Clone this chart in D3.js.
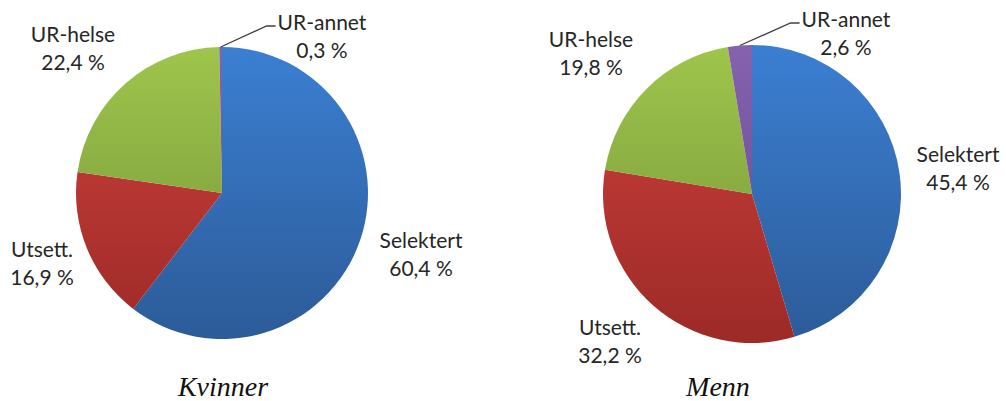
<!DOCTYPE html>
<html>
<head>
<meta charset="utf-8">
<script src="https://cdn.jsdelivr.net/npm/d3@7"></script>
<style>
  html, body { margin: 0; padding: 0; background: #fff; }
  svg { display: block; }
</style>
</head>
<body>
<svg id="chart" width="1006" height="401"></svg>
<script>
// ---- data ----
const categories = ["Selektert", "Utsett.", "UR-helse", "UR-annet"];
const groups = ["Kvinner", "Menn"];
const kvinnerValues = [60.4, 16.9, 22.4, 0.3];
const mennValues = [45.4, 32.2, 19.8, 2.6];
const kvinnerLabels = ["60,4 %", "16,9 %", "22,4 %", "0,3 %"];
const mennLabels = ["45,4 %", "32,2 %", "19,8 %", "2,6 %"];

// ---- layout / style ----
const colorsTop = ["#3b7fd2", "#d0413d", "#9fc54c", "#8462ad"];
const colorsBottom = ["#2c5b98", "#9c2a27", "#739238", "#664690"];
const pies = [
  { name: groups[0], values: kvinnerValues, labels: kvinnerLabels, cx: 222, cy: 193, r: 146,
    // label anchor offsets (centre of first line baseline) relative to pie centre
    labelPos: [[199, 55], [-180, 64], [-149, -151], [100, -163]],
    leader: [false, false, false, true], titleX: 223 },
  { name: groups[1], values: mennValues, labels: mennLabels, cx: 752, cy: 194, r: 149,
    labelPos: [[206, -32], [-142, 141], [-161, -147], [94, -167]],
    leader: [false, false, false, true], titleX: 718 }
];
const labelFont = "Lato, 'Open Sans', sans-serif";
const labelSize = 21;
const lineGap = 28;

const svg = d3.select("#chart");
const defs = svg.append("defs");

pies.forEach((p, pi) => {
  const pie = d3.pie().sort(null).value(d => d)(p.values);
  const arc = d3.arc().innerRadius(0).outerRadius(p.r);

  categories.forEach((c, i) => {
    const g = defs.append("linearGradient")
      .attr("id", `grad-${pi}-${i}`)
      .attr("gradientUnits", "userSpaceOnUse")
      .attr("x1", 0).attr("y1", -p.r).attr("x2", 0).attr("y2", p.r);
    g.append("stop").attr("offset", "0%").attr("stop-color", colorsTop[i]);
    g.append("stop").attr("offset", "100%").attr("stop-color", colorsBottom[i]);
  });

  const gPie = svg.append("g").attr("transform", `translate(${p.cx},${p.cy})`);
  gPie.selectAll("path.slice")
    .data(pie)
    .join("path")
    .attr("class", "slice")
    .attr("d", arc)
    .attr("fill", (d, i) => `url(#grad-${pi}-${i})`);

  // labels
  pie.forEach((d, i) => {
    const [dx, dy] = p.labelPos[i];
    const t = gPie.append("text")
      .attr("x", dx).attr("y", dy)
      .attr("text-anchor", "middle")
      .attr("font-family", labelFont)
      .attr("font-size", labelSize)
      .attr("fill", "#262626");
    t.append("tspan").attr("x", dx).attr("y", dy).text(categories[i]);
    t.append("tspan").attr("x", dx).attr("y", dy + lineGap).text(p.labels[i]);

    if (p.leader[i]) {
      const w = t.select("tspan").node().getComputedTextLength();
      const mid = (d.startAngle + d.endAngle) / 2;
      const sx = p.r * Math.sin(mid), sy = -p.r * Math.cos(mid);
      const ex = dx - w / 2 - 2, ey = dy - 4;
      gPie.append("polyline")
        .attr("points", `${sx},${sy} ${ex - 9},${ey} ${ex},${ey}`)
        .attr("fill", "none")
        .attr("stroke", "#404040")
        .attr("stroke-width", 1.3);
    }
  });

  svg.append("text")
    .attr("x", p.titleX).attr("y", 396)
    .attr("text-anchor", "middle")
    .attr("font-family", "'Liberation Serif', 'Times New Roman', serif")
    .attr("font-style", "italic")
    .attr("font-size", 28)
    .attr("fill", "#111")
    .text(p.name);
});
</script>
</body>
</html>
